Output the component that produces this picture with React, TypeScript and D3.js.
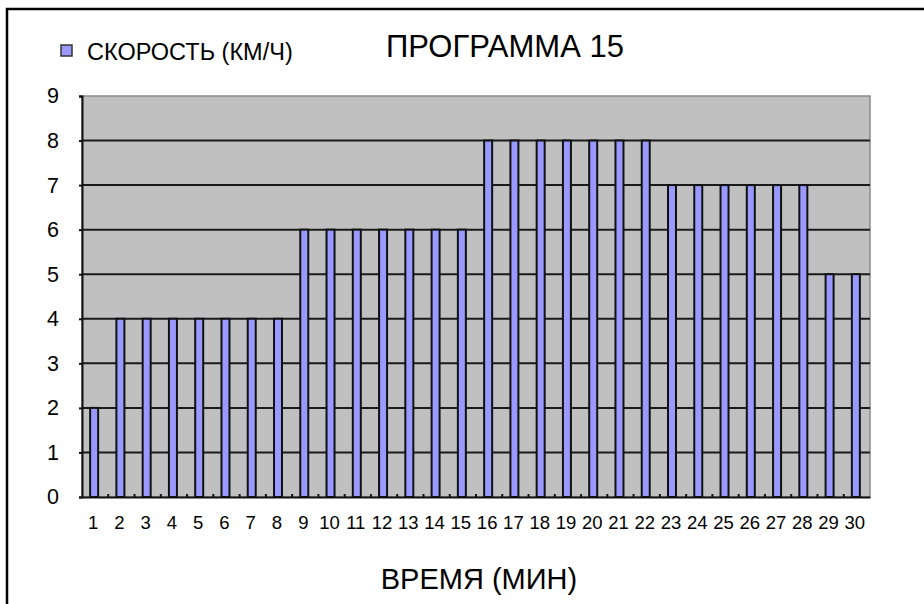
import React, { useEffect, useRef } from "react";
import * as d3 from "d3";

const minutes = d3.range(1, 31).map(String);
const speeds = [
  2, 4, 4, 4, 4, 4, 4, 4, 6, 6, 6, 6, 6, 6, 6, 8, 8, 8, 8, 8, 8, 8, 7, 7, 7,
  7, 7, 7, 5, 5,
];
const yTicks = [0, 1, 2, 3, 4, 5, 6, 7, 8, 9];
const title = "ПРОГРАММА 15";
const legendLabel = "СКОРОСТЬ (КМ/Ч)";
const xTitle = "ВРЕМЯ (МИН)";

const App = () => {
  const ref = useRef<SVGSVGElement>(null);

  useEffect(() => {
    const svg = d3.select(ref.current);
    svg.selectAll("*").remove();

    const width = 924;
    const height = 604;
    const margin = { top: 96, right: 54, bottom: 107, left: 82 };
    const font = "'Liberation Sans', Arial, sans-serif";

    // outer frame (runs off the right and bottom edges)
    svg
      .append("rect")
      .attr("x", 7)
      .attr("y", 9)
      .attr("width", width + 20)
      .attr("height", height + 20)
      .attr("fill", "#fff")
      .attr("stroke", "#000")
      .attr("stroke-width", 2.5);

    const x = d3
      .scaleBand()
      .domain(minutes)
      .range([margin.left, width - margin.right]);

    const y = d3
      .scaleLinear()
      .domain([0, 9])
      .range([height - margin.bottom, margin.top]);

    // plot background
    svg
      .append("rect")
      .attr("x", margin.left)
      .attr("y", margin.top)
      .attr("width", width - margin.right - margin.left)
      .attr("height", height - margin.bottom - margin.top)
      .attr("fill", "#c0c0c0")
      .attr("stroke", "#8a8a8a")
      .attr("stroke-width", 1.5);

    // gridlines
    svg
      .append("g")
      .selectAll("line")
      .data(yTicks.filter((d) => d > 0 && d < 9))
      .join("line")
      .attr("x1", margin.left)
      .attr("x2", width - margin.right)
      .attr("y1", (d) => y(d))
      .attr("y2", (d) => y(d))
      .attr("stroke", "#1a1a1a")
      .attr("stroke-width", 2);

    // bars
    const barW = 8;
    svg
      .append("g")
      .selectAll("rect")
      .data(speeds)
      .join("rect")
      .attr("x", (d, i) => x(minutes[i])! + (x.bandwidth() - barW) / 2 - 1)
      .attr("y", (d) => y(d))
      .attr("width", barW)
      .attr("height", (d) => y(0) - y(d))
      .attr("fill", "#9999ff")
      .attr("stroke", "#111")
      .attr("stroke-width", 2);

    // category boundary ticks
    svg
      .append("g")
      .selectAll("line")
      .data(minutes.slice(1))
      .join("line")
      .attr("x1", (d) => x(d)!)
      .attr("x2", (d) => x(d)!)
      .attr("y1", y(0))
      .attr("y2", y(0) - 3)
      .attr("stroke", "#111")
      .attr("stroke-width", 2);

    // axes
    const xAxis = svg
      .append("g")
      .attr("transform", `translate(0,${y(0)})`)
      .call(d3.axisBottom(x).tickSize(0).tickPadding(19));
    xAxis.select(".domain").attr("stroke", "#111").attr("stroke-width", 2);
    xAxis
      .selectAll("text")
      .attr("dx", -2)
      .attr("font-family", font)
      .attr("font-size", 18.5)
      .attr("fill", "#000");

    const yAxis = svg
      .append("g")
      .attr("transform", `translate(${margin.left},0)`)
      .call(d3.axisLeft(y).tickValues(yTicks).tickSize(3).tickPadding(20));
    yAxis.select(".domain").attr("stroke", "#111").attr("stroke-width", 2);
    yAxis.selectAll(".tick line").attr("stroke", "#111").attr("stroke-width", 2);
    yAxis
      .selectAll("text")
      .attr("font-family", font)
      .attr("font-size", 21.5)
      .attr("fill", "#000");

    // title
    svg
      .append("text")
      .attr("x", 505)
      .attr("y", 57)
      .attr("text-anchor", "middle")
      .attr("font-family", font)
      .attr("font-size", 31)
      .text(title);

    // legend
    svg
      .append("rect")
      .attr("x", 61)
      .attr("y", 45)
      .attr("width", 11)
      .attr("height", 11)
      .attr("fill", "#9999ff")
      .attr("stroke", "#333")
      .attr("stroke-width", 1.5);
    svg
      .append("text")
      .attr("x", 87)
      .attr("y", 60)
      .attr("font-family", font)
      .attr("font-size", 23.5)
      .text(legendLabel);

    // x title
    svg
      .append("text")
      .attr("x", 479)
      .attr("y", 589)
      .attr("text-anchor", "middle")
      .attr("font-family", font)
      .attr("font-size", 29)
      .text(xTitle);
  }, []);

  return (
    <svg
      ref={ref}
      width={924}
      height={604}
      style={{ position: "absolute", left: 0, top: 0, display: "block" }}
    ></svg>
  );
};

export default App;
